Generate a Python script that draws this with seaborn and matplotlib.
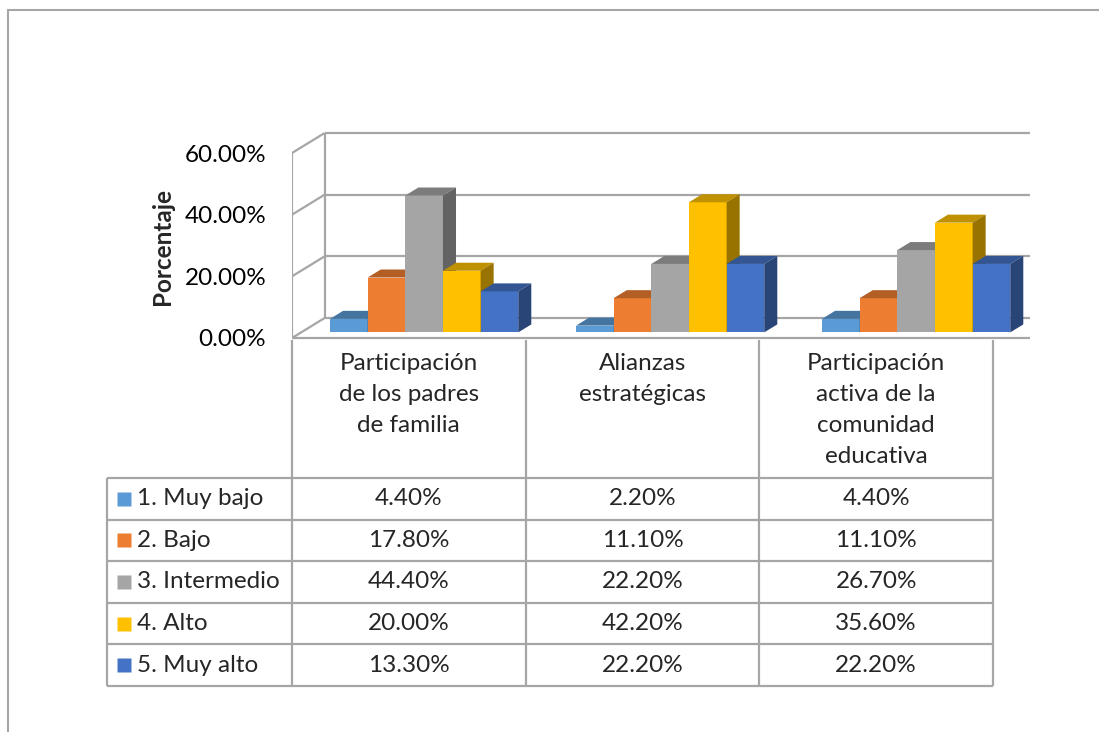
import matplotlib
matplotlib.use("Agg")
import matplotlib.pyplot as plt
import numpy as np
import pandas as pd
import seaborn as sns
from matplotlib.lines import Line2D
from matplotlib.patches import Polygon

# data
categories = ["Participación de los padres de familia",
              "Alianzas estratégicas",
              "Participación activa de la comunidad educativa"]
header_lines = ["Participación\nde los padres\nde familia",
                "Alianzas\nestratégicas",
                "Participación\nactiva de la\ncomunidad\neducativa"]
levels = ["1. Muy bajo", "2. Bajo", "3. Intermedio", "4. Alto", "5. Muy alto"]
muy_bajo = [4.4, 2.2, 4.4]
bajo = [17.8, 11.1, 11.1]
intermedio = [44.4, 22.2, 26.7]
alto = [20.0, 42.2, 35.6]
muy_alto = [13.3, 22.2, 22.2]
yticks = [0, 20, 40, 60]
colors = ["#5B9BD5", "#ED7D31", "#A5A5A5", "#FFC000", "#4472C4"]

series = [muy_bajo, bajo, intermedio, alto, muy_alto]
df = pd.DataFrame({
    "categoria": categories * len(levels),
    "nivel": [lv for lv in levels for _ in categories],
    "valor": [v for s in series for v in s],
})

W, H, DPI = 1099, 732, 100
sns.set_theme(style="white")
plt.rcParams["font.family"] = ["Lato", "DejaVu Sans"]
FS = 17.5
GRID = "#a6a6a6"

fig = plt.figure(figsize=(W / DPI, H / DPI), dpi=DPI)

# pixel geometry of the 3D box
CAT_PX = 701 / 3          # px per category
PCT_PX = 185 / 60         # px per percent
DX = 31 / CAT_PX          # depth offset in data units
DY = 20 / PCT_PX
F0, F1 = 0.28, 0.68       # bar depth slice


def fig_rect(x0, y0, x1, y1):
    return [x0 / W, 1 - y1 / H, (x1 - x0) / W, (y1 - y0) / H]


ax = fig.add_axes(fig_rect(292, 125, 1030, 345))
ax.set_xlim(-0.5, -0.5 + (1030 - 292) / CAT_PX)
ax.set_ylim(-(345 - 338) / PCT_PX, (338 - 125) / PCT_PX)

sns.barplot(data=df, x="categoria", y="valor", hue="nivel", order=categories,
            hue_order=levels, palette=colors, saturation=1, width=0.765,
            edgecolor="none", linewidth=0, legend=False, ax=ax)

# walls, floor and gridlines
lw = 1.6
kw = dict(color=GRID, lw=lw, zorder=1, solid_capstyle="butt")
ax.plot([-0.5, -0.5], [0, 60], **kw)
ax.plot([-0.5 + DX, -0.5 + DX], [DY, 60 + DY], **kw)
for t in yticks:
    ax.plot([-0.5, -0.5 + DX], [t, t + DY], **kw)
    ax.plot([-0.5 + DX, 2.5 + DX], [t + DY, t + DY], **kw)
ax.plot([2.5, 2.5 + DX], [0, DY], **kw)
ax.plot([-0.5, 2.5], [0, 0], **kw)


def shade(c, f):
    r, g, b = matplotlib.colors.to_rgb(c)
    return (r * f, g * f, b * f)


# turn flat bars into boxes
for hi, cont in enumerate(ax.containers):
    for bar in cont:
        x0 = bar.get_x() + F0 * DX
        w = bar.get_width()
        h = bar.get_height()
        y0 = F0 * DY
        bar.set_x(x0)
        bar.set_y(y0)
        bar.set_zorder(3 + hi)
        ddx, ddy = (F1 - F0) * DX, (F1 - F0) * DY
        top = Polygon([(x0, y0 + h), (x0 + w, y0 + h), (x0 + w + ddx, y0 + h + ddy),
                       (x0 + ddx, y0 + h + ddy)], closed=True,
                      facecolor=shade(colors[hi], 0.75), edgecolor="none", zorder=3 + hi)
        side = Polygon([(x0 + w, y0), (x0 + w + ddx, y0 + ddy), (x0 + w + ddx, y0 + h + ddy),
                        (x0 + w, y0 + h)], closed=True,
                       facecolor=shade(colors[hi], 0.6), edgecolor="none", zorder=3 + hi)
        ax.add_patch(top)
        ax.add_patch(side)

ax.set_yticks(yticks)
ax.set_yticklabels([f"{t:.2f}%" for t in yticks], fontsize=FS, color="black")
ax.tick_params(axis="y", length=0, pad=18.5)
ax.set_xticks([])
ax.set_xlabel("")
ax.set_ylabel("")
for s in ax.spines.values():
    s.set_visible(False)
ax.patch.set_alpha(0)

fig.text(163 / W, 1 - 246 / H, "Porcentaje", rotation=90, fontsize=FS,
         fontweight="bold", ha="center", va="center")

# data table
HEAD = 138
ROW = 41.6
tab = fig.add_axes(fig_rect(107, 340, 993, 686))
left = -0.5 - 185 / CAT_PX
tab.set_xlim(left, 2.5)
tab.set_ylim(HEAD + ROW * len(levels), 0)
tab.axis("off")
tkw = dict(color=GRID, lw=lw, clip_on=False, solid_capstyle="butt")
for k in range(len(levels) + 1):
    tab.plot([left, 2.5], [HEAD + ROW * k] * 2, **tkw)
tab.plot([left, left], [HEAD, HEAD + ROW * len(levels)], **tkw)
for xb in [-0.5, 0.5, 1.5, 2.5]:
    tab.plot([xb, xb], [0, HEAD + ROW * len(levels)], **tkw)

for ci, head in enumerate(header_lines):
    tab.text(ci, 13, head, ha="center", va="top", fontsize=FS, linespacing=1.58)

for ri, (lv, s) in enumerate(zip(levels, series)):
    yc = HEAD + ROW * (ri + 0.5)
    tab.plot([left + 16.5 / CAT_PX], [yc], marker="s", ms=10.5, color=colors[ri],
             mec="none", clip_on=False)
    tab.text(left + 30 / CAT_PX, yc, lv, ha="left", va="center", fontsize=FS)
    for ci, v in enumerate(s):
        tab.text(ci, yc, f"{v:.2f}%", ha="center", va="center", fontsize=FS)

# outer frame
fig.add_artist(Line2D([8 / W, 1], [1 - 10 / H, 1 - 10 / H], color=GRID, lw=1.5))
fig.add_artist(Line2D([8 / W, 8 / W], [1 - 10 / H, 0], color=GRID, lw=1.5))

fig.savefig("out.png", dpi=DPI)
